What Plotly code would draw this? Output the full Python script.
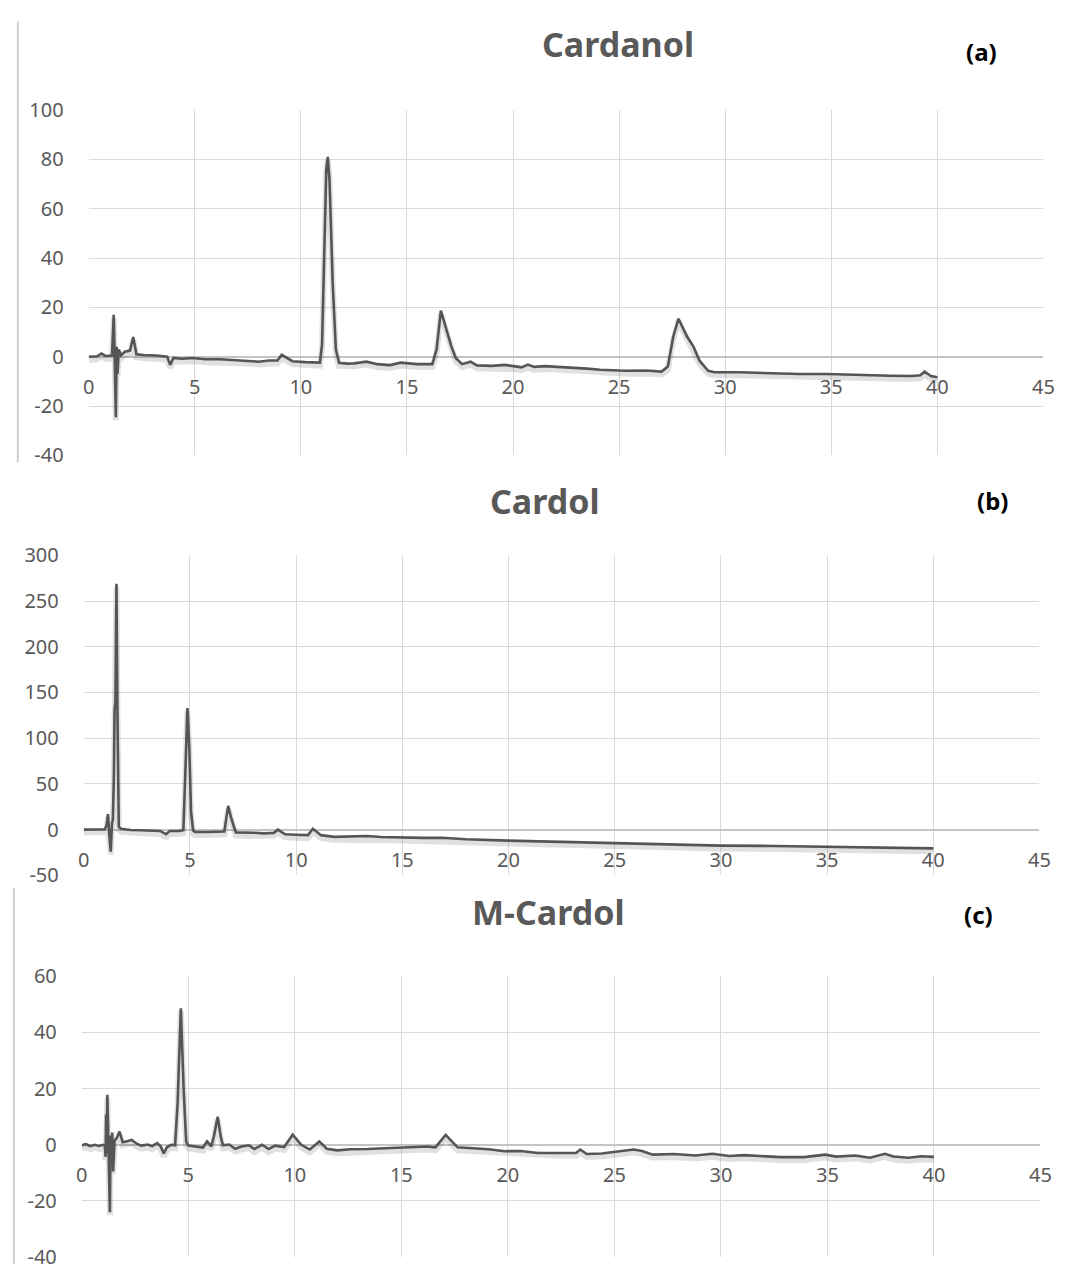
import plotly.graph_objects as go

W, H = 1080, 1277

# ---------------- data ----------------
cardanol_t = [0, 0.4, 0.6, 0.8, 1.1, 1.18, 1.22, 1.28, 1.32, 1.36, 1.42, 1.52, 1.7, 1.95, 2.1, 2.25,
              2.6, 3.2, 3.7, 3.84, 4.0, 4.4, 4.9, 5.5, 6.2, 6.9, 7.5, 8.0, 8.5, 8.9, 9.1, 9.35, 9.6,
              10.2, 10.9, 11.0, 11.1, 11.2, 11.27, 11.35, 11.5, 11.65, 11.8, 12.2, 12.5, 13.1, 13.6,
              14.2, 14.7, 15.5, 16.2, 16.4, 16.6, 16.9, 17.1, 17.3, 17.6, 18.0, 18.3, 19.0, 19.6,
              20.2, 20.4, 20.7, 21.0, 21.5, 22.7, 23.5, 24.1, 25.3, 26.3, 27.0, 27.3, 27.55, 27.8,
              28.0, 28.2, 28.5, 28.8, 29.2, 29.5, 30.7, 31.5, 32.7, 33.5, 34.8, 35.8, 36.8, 37.8,
              38.8, 39.2, 39.4, 39.7, 40.0]
cardanol_v = [0, 0.2, 1.3, 0.3, 0.5, 17, 2, -24.5, 4, -7, 3, 0.5, 2, 2.5, 8, 1,
              0.7, 0.5, 0, -3.3, -0.5, -0.8, -0.5, -1, -1, -1.3, -1.5, -2, -1.5, -1.5, 0.8, -0.5, -1.8,
              -2.2, -2.4, 5, 45, 76, 81, 72, 30, 3, -2.5, -2.8, -2.7, -2, -3,
              -3.4, -2.4, -3, -3, 3, 18.7, 10, 4, -0.5, -3, -2, -3.5, -3.7, -3.3,
              -4, -4.3, -3.2, -4.1, -3.8, -4.3, -4.8, -5.3, -5.7, -5.6, -6, -4, 8, 15.4,
              12, 8.2, 4.2, -1.7, -5.7, -6.3, -6.3, -6.5, -6.6, -7, -7, -7.3, -7.6, -7.7,
              -7.8, -7.5, -6, -7.8, -8.3]

cardol_t = [0, 0.5, 0.99, 1.08, 1.14, 1.2, 1.27, 1.33, 1.37, 1.42, 1.45, 1.49, 1.54, 1.59, 1.65,
            1.76, 2.2, 2.7, 3.2, 3.6, 3.87, 4.05, 4.5, 4.69, 4.78, 4.88, 4.97, 5.05, 5.15, 5.23,
            5.8, 6.4, 6.62, 6.8, 6.95, 7.16, 7.6, 8.0, 8.5, 8.95, 9.14, 9.48, 10.0, 10.56, 10.79,
            11.17, 11.8, 12.5, 13.33, 14.0, 14.9, 16.0, 16.85, 18.0, 20.0, 22.5, 25.0, 27.5, 30.0,
            32.5, 35.0, 37.5, 40.0]
cardol_v = [0, 0, 0.5, 5, 17, -5, -24, 8, 10, 60, 131, 140, 269, 120, 3,
            1, -0.3, -0.7, -1, -1.4, -5, -1.5, -1.4, -0.5, 60, 133, 90, 20, -1, -2.5,
            -2.5, -2.5, -2, 26, 12, -3, -3.6, -3.4, -4, -3.5, 0, -5, -5.5, -6, 1,
            -6, -7.9, -7.8, -7, -8, -8.6, -9, -8.8, -10.5, -12, -13.5, -15, -16, -17.5,
            -17.8, -18.6, -19.5, -20.5]

mcardol_t = [0, 0.2, 0.4, 0.6, 0.8, 1.0, 1.08, 1.12, 1.14, 1.17, 1.2, 1.26, 1.32, 1.35, 1.4, 1.43,
             1.47, 1.54, 1.65, 1.77, 1.92, 2.08, 2.34, 2.6, 2.8, 3.1, 3.3, 3.54, 3.7, 3.85, 4.0,
             4.2, 4.38, 4.5, 4.65, 4.78, 4.9, 5.0, 5.3, 5.69, 5.88, 6.08, 6.2, 6.38, 6.52, 6.62,
             6.92, 7.2, 7.5, 7.85, 8.1, 8.46, 8.77, 9.08, 9.5, 9.9, 10.3, 10.7, 11.15, 11.5, 12.0,
             12.6, 13.4, 14.1, 14.77, 15.5, 16.2, 16.6, 17.08, 17.64, 18.4, 19.1, 19.84, 20.6,
             21.4, 22.3, 23.2, 23.4, 23.7, 24.4, 25.2, 25.9, 26.3, 26.8, 27.8, 28.8, 29.6, 30.4,
             31.1, 31.7, 32.8, 33.9, 34.9, 35.4, 36.3, 37.0, 37.7, 38.1, 38.8, 39.4, 40.0]
mcardol_v = [-0.2, 0.2, -0.5, 0, -0.4, 0, -0.3, -4.3, 10.8, -3, 17.8, -4.3, -24, 3.3, -6.6, 4.4,
             -9.5, 1.5, 2.5, 4.7, 0.9, 1.2, 1.7, 0.3, -0.3, 0.1, -0.5, 0.6, -0.5, -3.1, -0.8,
             0, -0.2, 15, 48.6, 20, 1, -0.3, -0.6, -1, 1.2, -0.6, 3, 10, 3, -0.2,
             0.1, -1.4, -0.6, -0.2, -1.5, 0, -1.5, -0.3, -0.8, 3.6, 0, -1.7, 1.2, -1.4, -2,
             -1.6, -1.5, -1.3, -1, -1, -0.6, -0.9, 3.5, -0.9, -1.2, -1.6, -2.3, -2.2,
             -2.9, -2.8, -2.9, -1.7, -3.3, -3.1, -2.3, -1.7, -2.2, -3.5, -3.3, -3.8, -3.2, -4,
             -3.7, -4, -4.4, -4.4, -3.5, -4.2, -3.8, -4.6, -3.2, -4.2, -4.6, -4.1, -4.3]

titles = ["Cardanol", "Cardol", "M-Cardol"]
panel_tags = ["(a)", "(b)", "(c)"]
x_ticks = [0, 5, 10, 15, 20, 25, 30, 35, 40, 45]
y_ticks = [[-40, -20, 0, 20, 40, 60, 80, 100],
           [-50, 0, 50, 100, 150, 200, 250, 300],
           [-40, -20, 0, 20, 40, 60]]
y_ranges = [(-40, 100), (-50, 300), (-40, 60)]

series = [(cardanol_t, cardanol_v), (cardol_t, cardol_v), (mcardol_t, mcardol_v)]

# ---------------- layout geometry (pixels) ----------------
plot_px = [  # left, right, top, bottom
    (84, 1054, 98, 451),
    (79, 1050, 553, 880),
    (77, 1051, 983, 1270),
]
title_px = [(622, 31), (548, 498), (551, 917)]
tag_px = [(991, 38), (1002, 497), (988, 920)]

LINE = "#555555"
GRID = "#dadada"
TXT = "#595959"
TICKFONT = dict(family="Noto Sans, Open Sans, sans-serif", size=20, color=TXT)
TITLEFONT = "Noto Sans, Open Sans, sans-serif"

fig = go.Figure()
layout = dict(width=W, height=H, margin=dict(l=0, r=0, t=0, b=0),
              paper_bgcolor="white", plot_bgcolor="white", showlegend=False,
              annotations=[], shapes=[])

for i, ((t, v), (l, r, tp, bt), (ymin, ymax)) in enumerate(zip(series, plot_px, y_ranges)):
    n = "" if i == 0 else str(i + 1)
    xd = [l / W, r / W]
    yd = [1 - bt / H, 1 - tp / H]
    zero_pos = yd[0] + (0 - ymin) / (ymax - ymin) * (yd[1] - yd[0])
    # shadow offset: ~3 px expressed in data units
    px_per_unit = (bt - tp) / (ymax - ymin)
    off = 3.0 / px_per_unit
    fig.add_trace(go.Scatter(x=t, y=[val - off for val in v], mode="lines",
                             line=dict(color="rgba(0,0,0,0.12)", width=6),
                             hoverinfo="skip", xaxis="x" + n, yaxis="y" + n))
    fig.add_trace(go.Scatter(x=t, y=v, mode="lines", line=dict(color=LINE, width=2.6),
                             xaxis="x" + n, yaxis="y" + n))
    layout["xaxis" + n] = dict(domain=xd, range=[0, 45], tickvals=x_ticks,
                               ticktext=[str(k) for k in x_ticks],
                               showgrid=True, gridcolor=GRID, gridwidth=1,
                               zeroline=False, showline=False,
                               anchor="free", position=zero_pos,
                               ticks="outside", ticklen=12, tickcolor="rgba(0,0,0,0)",
                               tickfont=TICKFONT, fixedrange=True)
    layout["yaxis" + n] = dict(domain=yd, range=[ymin, ymax], tickvals=y_ticks[i],
                               ticktext=[str(k) for k in y_ticks[i]],
                               showgrid=True, gridcolor=GRID, gridwidth=1,
                               zeroline=True, zerolinecolor="#c4c4c4", zerolinewidth=1.5,
                               showline=False, anchor="x" + n,
                               ticks="outside", ticklen=20, tickcolor="rgba(0,0,0,0)",
                               tickfont=TICKFONT, fixedrange=True)
    layout["annotations"].append(dict(text="<b>%s</b>" % titles[i], xref="paper", yref="paper",
                                      x=title_px[i][0] / W, y=1 - title_px[i][1] / H,
                                      xanchor="center", yanchor="middle", showarrow=False,
                                      font=dict(family=TITLEFONT, size=34, color=TXT)))
    layout["annotations"].append(dict(text="<b>%s</b>" % panel_tags[i], xref="paper", yref="paper",
                                      x=tag_px[i][0] / W, y=1 - tag_px[i][1] / H,
                                      xanchor="center", yanchor="middle", showarrow=False,
                                      font=dict(family=TITLEFONT, size=24, color="black")))

# thin frame lines at the left edge of panels (a) and (c)
layout["shapes"].append(dict(type="line", xref="paper", yref="paper",
                             x0=12 / W, x1=12 / W, y0=1 - 8 / H, y1=1 - 458 / H,
                             line=dict(color="#cfcfcf", width=2)))
layout["shapes"].append(dict(type="line", xref="paper", yref="paper",
                             x0=8 / W, x1=8 / W, y0=1 - 893 / H, y1=0,
                             line=dict(color="#cfcfcf", width=2)))

fig.update_layout(**layout)
fig.write_html("out.html")
